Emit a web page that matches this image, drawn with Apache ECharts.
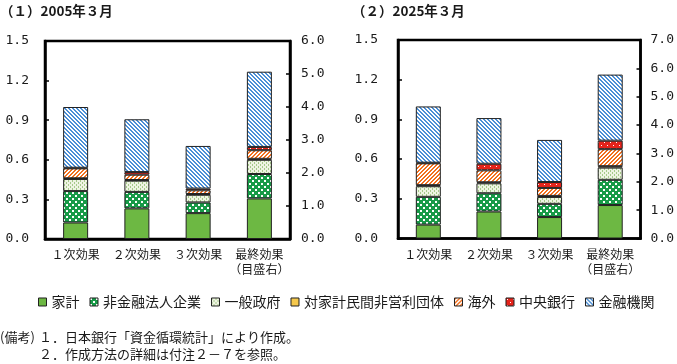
<!DOCTYPE html>
<html><head><meta charset="utf-8">
<script src="https://cdn.jsdelivr.net/npm/echarts@6/dist/echarts.min.js"></script>
<style>html,body{margin:0;padding:0;background:#fff}#c{width:677px;height:364px}</style>
</head><body><div id="c"></div>
<script>
// ---- data ----
const categories = ['１次効果', '２次効果', '３次効果', '最終効果\n（目盛右）'];
const seriesNames = ['家計', '非金融法人企業', '一般政府', '対家計民間非営利団体', '海外', '中央銀行', '金融機関'];

// 2005年3月 (first three bars: left axis, last bar: right axis)
const households2005 = [0.125, 0.232, 0.196, 1.23];
const nonFinCorp2005 = [0.238, 0.125, 0.081, 0.74];
const government2005 = [0.092, 0.085, 0.058, 0.43];
const npish2005      = [0.005, 0.005, 0.006, 0.03];
const overseas2005   = [0.075, 0.040, 0.028, 0.26];
const centralBank2005= [0.005, 0.020, 0.013, 0.10];
const financial2005  = [0.460, 0.400, 0.323, 2.28];

// 2025年3月
const households2025 = [0.105, 0.204, 0.162, 1.18];
const nonFinCorp2025 = [0.210, 0.138, 0.100, 0.89];
const government2025 = [0.080, 0.075, 0.052, 0.43];
const npish2025      = [0.008, 0.008, 0.008, 0.05];
const overseas2025   = [0.165, 0.090, 0.060, 0.60];
const centralBank2025= [0.005, 0.050, 0.045, 0.30];
const financial2025  = [0.425, 0.345, 0.318, 2.33];

const leftAxisMin = 0, leftAxisMax = 1.5, leftAxisStep = 0.3;
const rightAxisMax2005 = 6, rightAxisMax2025 = 7, rightAxisStep = 1;

const titles = ['（１）2005年３月', '（２）2025年３月'];
const noteHead = '(備考)';
const noteLines = ['１．日本銀行「資金循環統計」により作成。', '２．作成方法の詳細は付注２－７を参照。'];

// ---- patterns ----
function pat(w, h, fn) {
  const c = document.createElement('canvas'); c.width = w; c.height = h;
  const ctx = c.getContext('2d'); fn(ctx); return { image: c, repeat: 'repeat' };
}
function stripes(color, rising) {
  return pat(4, 4, ctx => {
    ctx.fillStyle = '#fff'; ctx.fillRect(0, 0, 4, 4); ctx.fillStyle = color;
    for (let y = 0; y < 4; y++) for (let x = 0; x < 4; x++) {
      const k = rising ? (x + y) % 4 : (x - y + 8) % 4;
      if (k < 2) ctx.fillRect(x, y, 1, 1);
    }
  });
}
function dots(bg, fg, w, h, pts) {
  return pat(w, h, ctx => {
    ctx.fillStyle = bg; ctx.fillRect(0, 0, w, h); ctx.fillStyle = fg;
    pts.forEach(p => ctx.fillRect(p[0], p[1], p[2], p[3]));
  });
}
const fills = [
  '#6DB843',
  dots('#179a47', '#ffffff', 6, 6, [[0, 0, 2, 2], [3, 3, 2, 2]]),
  dots('#eef4e2', '#a6c98a', 4, 4, [[0, 0, 1, 2], [2, 2, 1, 2]]),
  '#F5C84C',
  stripes('#F2701E', true),
  dots('#e5231b', '#ffffff', 6, 6, [[1, 1, 1, 1], [4, 4, 1, 1]]),
  stripes('#4C8FD6', false)
];

const set2005 = [households2005, nonFinCorp2005, government2005, npish2005, overseas2005, centralBank2005, financial2005];
const set2025 = [households2025, nonFinCorp2025, government2025, npish2025, overseas2025, centralBank2025, financial2025];

function buildSeries(g, sets) {
  const out = [];
  seriesNames.forEach((name, i) => {
    const vals = sets[i];
    const style = { color: fills[i], borderColor: '#222', borderWidth: 1 };
    out.push({ name, type: 'bar', xAxisIndex: g, yAxisIndex: g * 2, stack: 'L' + g, barWidth: 25, barGap: '-100%',
      itemStyle: style, emphasis: { disabled: true }, data: vals.map((v, j) => j < 3 ? v : '-') });
    out.push({ name, type: 'bar', xAxisIndex: g, yAxisIndex: g * 2 + 1, stack: 'R' + g, barWidth: 25, barGap: '-100%',
      itemStyle: style, emphasis: { disabled: true }, data: vals.map((v, j) => j === 3 ? v : '-') });
  });
  return out;
}

const numFont = 'DejaVu Sans Mono';
const cjk = '"Noto Sans CJK JP", sans-serif';
const grids = [
  { left: 45, top: 41, width: 245, height: 198 },
  { left: 398, top: 40, width: 247, height: 198.5 }
];
function xAxis(g) {
  return { type: 'category', gridIndex: g, data: categories,
    axisLine: { lineStyle: { color: '#000', width: 2.5 } }, axisTick: { show: false },
    axisLabel: { color: '#1a1a1a', fontSize: 12, fontFamily: cjk, lineHeight: 15, margin: 8, interval: 0 } };
}
function yAxis(g, pos, max, step, margin) {
  return { type: 'value', gridIndex: g, position: pos, min: 0, max: max, interval: step,
    axisLine: { show: true, lineStyle: { color: '#000', width: 2.5 } },
    axisTick: { show: true, inside: true, length: 4, lineStyle: { color: '#000', width: 1.5 } },
    splitLine: { show: false },
    axisLabel: { color: '#1a1a1a', fontSize: 13, fontFamily: numFont, margin: margin, formatter: v => v.toFixed(1) } };
}

const chart = echarts.init(document.getElementById('c'), null, { renderer: 'canvas' });
chart.setOption({
  animation: false,
  backgroundColor: '#fff',
  grid: grids.map(g => Object.assign({ show: true, borderColor: '#000', borderWidth: 2.5, backgroundColor: 'transparent' }, g)),
  xAxis: [xAxis(0), xAxis(1)],
  yAxis: [
    yAxis(0, 'left', leftAxisMax, leftAxisStep, 16),
    yAxis(0, 'right', rightAxisMax2005, rightAxisStep, 11),
    yAxis(1, 'left', leftAxisMax, leftAxisStep, 20),
    yAxis(1, 'right', rightAxisMax2025, rightAxisStep, 10)
  ],
  legend: { data: seriesNames, icon: 'rect', left: 33, top: 290, itemWidth: 8, itemHeight: 8, itemGap: 10,
    itemStyle: { borderColor: '#222', borderWidth: 1 },
    textStyle: { fontSize: 14, fontFamily: cjk, color: '#1a1a1a' } },
  graphic: [
    { type: 'text', left: 0, top: 4, style: { text: titles[0], fontSize: 13.5, fontWeight: 'bold', fontFamily: cjk, fill: '#1a1a1a' } },
    { type: 'text', left: 352, top: 4, style: { text: titles[1], fontSize: 13.5, fontWeight: 'bold', fontFamily: cjk, fill: '#1a1a1a' } },
    { type: 'text', left: 0, top: 331, style: { text: noteHead, fontSize: 13, fontFamily: cjk, fill: '#1a1a1a' } },
    { type: 'text', left: 39, top: 331, style: { text: noteLines[0], fontSize: 13, fontFamily: cjk, fill: '#1a1a1a' } },
    { type: 'text', left: 39, top: 348, style: { text: noteLines[1], fontSize: 13, fontFamily: cjk, fill: '#1a1a1a' } }
  ],
  series: buildSeries(0, set2005).concat(buildSeries(1, set2025))
});
</script></body></html>
